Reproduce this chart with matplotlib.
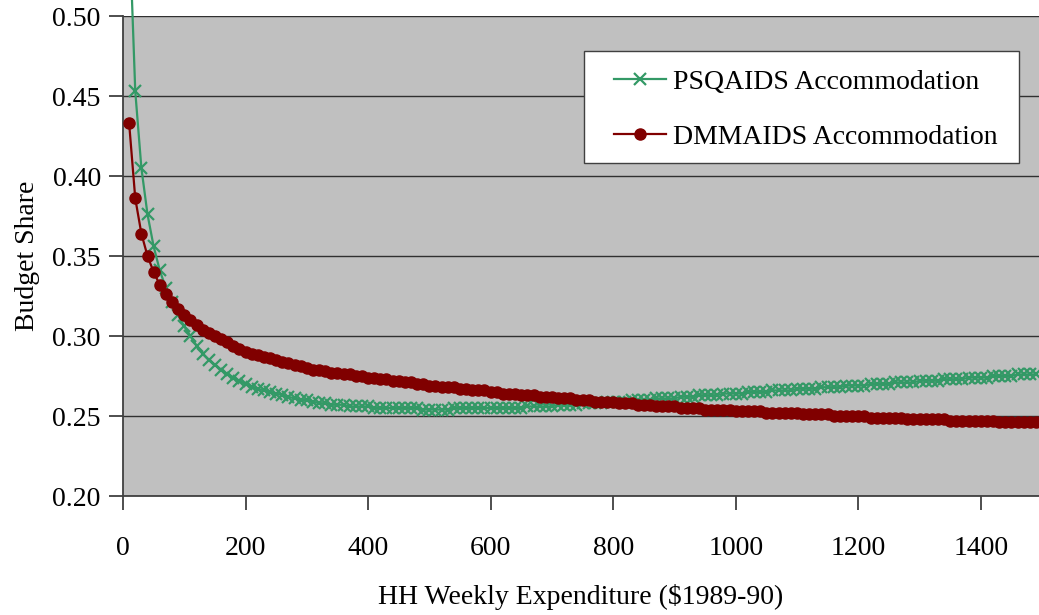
import matplotlib
matplotlib.use("Agg")
import matplotlib.pyplot as plt
from matplotlib.patches import Rectangle
from matplotlib.transforms import Affine2D
import numpy as np

plt.rcParams['font.family'] = ['Liberation Serif', 'DejaVu Serif']

# HH weekly expenditure values (x), every 10 dollars from 10 to 1490
expenditure = list(range(10, 1500, 10))

psqaids = [
    0.560, 0.453, 0.405, 0.376, 0.356, 0.341, 0.330, 0.321, 0.313, 0.306,
    0.300, 0.294, 0.289, 0.285, 0.282, 0.279, 0.276, 0.274, 0.272, 0.270,
    0.268, 0.267, 0.266, 0.265, 0.264, 0.263, 0.262, 0.261, 0.260, 0.260,
    0.259, 0.258, 0.258, 0.257, 0.257, 0.257, 0.256, 0.256, 0.256, 0.256,
    0.255, 0.255, 0.255, 0.255, 0.255, 0.255, 0.255, 0.255, 0.254, 0.254,
    0.254, 0.254, 0.254, 0.255, 0.255, 0.255, 0.255, 0.255, 0.255, 0.255,
    0.255, 0.255, 0.255, 0.255, 0.255, 0.256, 0.256, 0.256, 0.256, 0.256,
    0.257, 0.257, 0.257, 0.257, 0.258, 0.258, 0.258, 0.258, 0.259, 0.259,
    0.259, 0.259, 0.260, 0.260, 0.260, 0.260, 0.261, 0.261, 0.261, 0.261,
    0.262, 0.262, 0.262, 0.263, 0.263, 0.263, 0.263, 0.264, 0.264, 0.264,
    0.264, 0.265, 0.265, 0.265, 0.265, 0.266, 0.266, 0.266, 0.266, 0.267,
    0.267, 0.267, 0.267, 0.268, 0.268, 0.268, 0.268, 0.269, 0.269, 0.269,
    0.269, 0.270, 0.270, 0.270, 0.270, 0.271, 0.271, 0.271, 0.271, 0.272,
    0.272, 0.272, 0.272, 0.273, 0.273, 0.273, 0.273, 0.274, 0.274, 0.274,
    0.274, 0.275, 0.275, 0.275, 0.275, 0.276, 0.276, 0.276, 0.276,
]

dmmaids = [
    0.433, 0.386, 0.364, 0.350, 0.340, 0.332, 0.326, 0.321, 0.317, 0.313,
    0.310, 0.307, 0.304, 0.302, 0.300, 0.298, 0.296, 0.294, 0.292, 0.290,
    0.289, 0.288, 0.287, 0.286, 0.285, 0.284, 0.283, 0.282, 0.281, 0.280,
    0.279, 0.279, 0.278, 0.277, 0.277, 0.276, 0.276, 0.275, 0.275, 0.274,
    0.274, 0.273, 0.273, 0.272, 0.272, 0.271, 0.271, 0.270, 0.270, 0.269,
    0.269, 0.268, 0.268, 0.268, 0.267, 0.267, 0.266, 0.266, 0.266, 0.265,
    0.265, 0.264, 0.264, 0.264, 0.263, 0.263, 0.263, 0.262, 0.262, 0.262,
    0.261, 0.261, 0.261, 0.260, 0.260, 0.260, 0.259, 0.259, 0.259, 0.259,
    0.258, 0.258, 0.258, 0.257, 0.257, 0.257, 0.256, 0.256, 0.256, 0.256,
    0.255, 0.255, 0.255, 0.255, 0.254, 0.254, 0.254, 0.254, 0.254, 0.253,
    0.253, 0.253, 0.253, 0.253, 0.252, 0.252, 0.252, 0.252, 0.252, 0.252,
    0.251, 0.251, 0.251, 0.251, 0.251, 0.250, 0.250, 0.250, 0.250, 0.250,
    0.250, 0.249, 0.249, 0.249, 0.249, 0.249, 0.249, 0.248, 0.248, 0.248,
    0.248, 0.248, 0.248, 0.248, 0.247, 0.247, 0.247, 0.247, 0.247, 0.247,
    0.247, 0.247, 0.246, 0.246, 0.246, 0.246, 0.246, 0.246, 0.246,
]

series_labels = ["PSQAIDS Accommodation", "DMMAIDS Accommodation"]
x_ticks = [0, 200, 400, 600, 800, 1000, 1200, 1400]
y_ticks = [0.20, 0.25, 0.30, 0.35, 0.40, 0.45, 0.50]

W, H = 1039, 615
fig = plt.figure(figsize=(W / 100, H / 100), dpi=100)
ax = fig.add_axes([123 / W, 1 - 496 / H, 1 - 123 / W, (496 - 16) / H])
ax.set_facecolor('#C0C0C0')

green = '#339966'
red = '#800000'

ax.plot(expenditure, psqaids, color=green, lw=1.6, marker='x', ms=9, mew=1.6,
        label=series_labels[0], clip_on=False, zorder=3)
ax.plot(expenditure, dmmaids, color=red, lw=1.6, marker='o', ms=8,
        label=series_labels[1], zorder=4)

ax.set_xlim(0, 1495)
ax.set_ylim(0.20, 0.50)
ax.set_xticks(x_ticks)
ax.set_yticks(y_ticks)
ax.set_yticklabels([f"{v:.2f}" for v in y_ticks])
ax.grid(axis='y', color='#303030', lw=1.0)
ax.set_axisbelow(True)

for s in ['top', 'right']:
    ax.spines[s].set_visible(False)
for s in ['left', 'bottom']:
    ax.spines[s].set_color('#404040')
    ax.spines[s].set_linewidth(1.3)

FS = 20
ax.tick_params(axis='y', direction='out', length=10, width=1.2, color='#303030',
               labelsize=FS, pad=6)
ax.tick_params(axis='x', direction='out', length=10, width=1.2, color='#303030',
               labelsize=FS, pad=19)

ax.set_xlabel("HH Weekly Expenditure ($1989-90)", fontsize=FS, labelpad=16)
ax.set_ylabel("Budget Share", fontsize=FS, labelpad=9)

# legend frame drawn in figure pixel coordinates
pix = Affine2D().scale(1 / W, 1 / H) + fig.transFigure
frame = Rectangle((584, H - 163), 1019 - 584, 163 - 51, transform=pix,
                  facecolor='white', edgecolor='#404040', lw=1.0, zorder=5)
fig.add_artist(frame)

leg = ax.legend(loc='center left', bbox_to_anchor=(614, H - 109.5),
                bbox_transform=pix,
                fontsize=FS, frameon=False, handlelength=1.87, handletextpad=0.25,
                borderpad=0, labelspacing=1.07, borderaxespad=0)
leg.set_zorder(6)
leg.remove()
fig.add_artist(leg)

fig.savefig("out.png", dpi=100)
